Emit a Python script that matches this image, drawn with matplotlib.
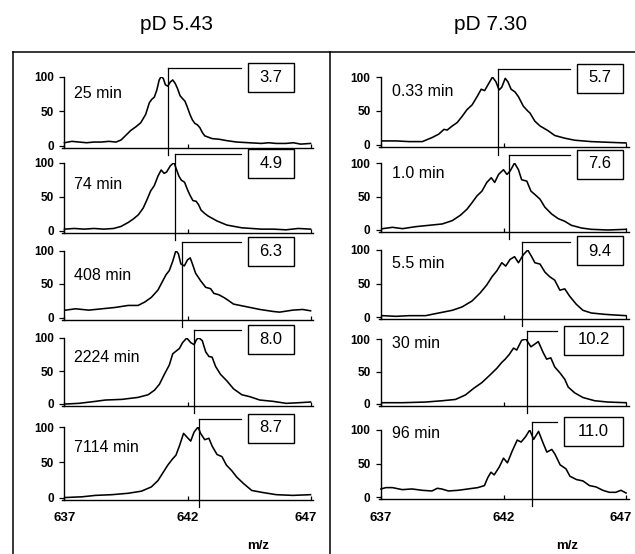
import matplotlib
matplotlib.use('Agg')
import matplotlib.pyplot as plt
from matplotlib.patches import Rectangle
from matplotlib.lines import Line2D
from matplotlib.transforms import ScaledTranslation

plt.rcParams['font.family'] = ['Liberation Sans', 'DejaVu Sans']

# ---------------- data ----------------
titles = ['pD 5.43', 'pD 7.30']
times_left = ['25 min', '74 min', '408 min', '2224 min', '7114 min']
times_right = ['0.33 min', '1.0 min', '5.5 min', '30 min', '96 min']
deut_left = ['3.7', '4.9', '6.3', '8.0', '8.7']
deut_right = ['5.7', '7.6', '9.4', '10.2', '11.0']
centroid_left = [641.20, 641.50, 641.76, 642.27, 642.47]
centroid_right = [641.77, 642.24, 642.74, 642.97, 643.18]
xticks = [637, 642, 647]
yticks = [0, 50, 100]

# spectra: (m/z, relative intensity)
L1 = [(637.0, 4), (637.3, 6), (637.6, 5), (637.9, 4), (638.2, 5), (638.5, 5), (638.8, 6), (639.1, 5),
      (639.3, 8), (639.5, 15), (639.7, 22), (639.9, 27), (640.1, 33), (640.3, 45), (640.45, 62),
      (640.55, 67), (640.65, 70), (640.75, 80), (640.85, 95), (640.93, 100), (641.02, 97), (641.1, 88),
      (641.2, 86), (641.3, 92), (641.4, 95), (641.5, 90), (641.6, 82), (641.7, 72), (641.8, 68),
      (641.9, 64), (642.0, 55), (642.1, 45), (642.2, 37), (642.3, 32), (642.4, 30), (642.5, 26),
      (642.6, 19), (642.7, 14), (642.85, 12), (643.0, 10), (643.3, 9), (643.6, 7), (644.0, 5),
      (644.5, 4), (645.0, 3), (645.3, 4), (645.6, 3), (646.0, 3), (646.3, 4), (646.6, 2), (647.0, 3)]
L2 = [(637.0, 2), (637.4, 3), (637.8, 2), (638.2, 3), (638.6, 2), (639.0, 3), (639.3, 6), (639.6, 12),
      (639.8, 17), (640.0, 23), (640.2, 33), (640.35, 45), (640.5, 58), (640.65, 66), (640.8, 80),
      (640.93, 89), (641.05, 84), (641.15, 86), (641.3, 95), (641.45, 100), (641.55, 90), (641.65, 80),
      (641.75, 74), (641.88, 71), (642.0, 60), (642.1, 52), (642.22, 44), (642.35, 43), (642.45, 38),
      (642.55, 30), (642.7, 25), (642.85, 21), (643.0, 18), (643.2, 14), (643.4, 11), (643.6, 8),
      (643.9, 6), (644.2, 4), (644.6, 3), (645.0, 2), (645.5, 2), (646.0, 1), (646.5, 3), (647.0, 2)]
L3 = [(637.05, 11), (637.45, 13), (637.99, 11), (638.52, 13), (639.06, 15), (639.59, 18), (639.99, 18),
      (640.26, 23), (640.53, 30), (640.8, 41), (641.0, 55), (641.13, 64), (641.26, 70), (641.4, 84),
      (641.53, 100), (641.63, 95), (641.73, 80), (641.87, 77), (642.0, 86), (642.11, 89), (642.2, 80),
      (642.33, 66), (642.53, 55), (642.74, 45), (642.94, 43), (643.07, 36), (643.27, 34), (643.47, 30),
      (643.6, 27), (643.87, 20), (644.14, 18), (644.54, 15), (644.94, 12), (645.48, 9), (645.74, 8),
      (646.28, 11), (646.68, 12), (647.0, 10)]
L4 = [(637.05, 0), (637.59, 1), (638.26, 4), (638.66, 6), (639.33, 7), (639.99, 10), (640.4, 14),
      (640.66, 21), (640.86, 30), (641.06, 45), (641.26, 59), (641.4, 76), (641.53, 80), (641.67, 84),
      (641.8, 93), (641.97, 100), (642.13, 93), (642.27, 90), (642.37, 98), (642.47, 100), (642.6, 96),
      (642.74, 79), (642.87, 72), (643.0, 71), (643.14, 57), (643.34, 45), (643.47, 40), (643.6, 35),
      (643.87, 23), (644.21, 14), (644.54, 11), (644.94, 6), (645.48, 4), (646.01, 1), (646.55, 2),
      (647.0, 3)]
L5 = [(637.05, 0), (637.72, 1), (638.26, 3), (638.93, 4), (639.59, 6), (640.13, 9), (640.53, 15),
      (640.8, 24), (641.0, 35), (641.2, 46), (641.4, 55), (641.53, 60), (641.67, 73), (641.84, 91),
      (641.97, 86), (642.13, 80), (642.27, 93), (642.43, 100), (642.53, 91), (642.7, 82), (642.87, 84),
      (643.0, 73), (643.2, 61), (643.4, 58), (643.58, 46), (643.8, 38), (644.0, 29), (644.27, 20),
      (644.61, 10), (645.07, 7), (645.61, 4), (646.28, 3), (647.0, 4)]
R1 = [(637.07, 6), (637.61, 6), (638.15, 5), (638.69, 5), (639.09, 11), (639.36, 16), (639.57, 23),
      (639.7, 22), (639.91, 28), (640.11, 33), (640.31, 42), (640.51, 52), (640.72, 59), (640.92, 71),
      (641.09, 82), (641.23, 80), (641.39, 90), (641.55, 100), (641.69, 93), (641.82, 81), (641.93, 85),
      (642.07, 98), (642.18, 93), (642.31, 82), (642.47, 78), (642.61, 71), (642.81, 57), (642.99, 50),
      (643.08, 47), (643.28, 35), (643.49, 28), (643.82, 21), (644.09, 14), (644.5, 10), (644.91, 7),
      (645.58, 5), (646.26, 4), (647.0, 3)]
R2 = [(637.07, 2), (637.47, 4), (637.88, 2), (638.42, 5), (638.96, 7), (639.5, 9), (639.91, 14),
      (640.24, 22), (640.51, 31), (640.72, 41), (640.92, 51), (641.12, 58), (641.32, 71), (641.5, 78),
      (641.64, 71), (641.8, 83), (642.0, 90), (642.14, 83), (642.27, 88), (642.45, 100), (642.61, 90),
      (642.74, 75), (642.95, 73), (643.12, 58), (643.28, 53), (643.49, 46), (643.69, 34), (643.96, 24),
      (644.23, 17), (644.5, 13), (644.77, 7), (645.18, 3), (645.58, 1), (646.26, 0), (647.0, 1)]
R3 = [(637.07, 2), (637.61, 1), (638.15, 2), (638.82, 2), (639.36, 6), (639.91, 10), (640.31, 15),
      (640.72, 24), (641.05, 36), (641.32, 48), (641.53, 60), (641.73, 69), (641.93, 81), (642.09, 76),
      (642.27, 86), (642.45, 90), (642.61, 81), (642.81, 93), (642.99, 100), (643.15, 90), (643.28, 81),
      (643.49, 79), (643.69, 67), (643.89, 60), (644.09, 55), (644.3, 40), (644.5, 42), (644.7, 31),
      (644.97, 19), (645.24, 10), (645.58, 6), (646.12, 4), (646.53, 3), (647.0, 2)]
R4 = [(637.07, 2), (637.88, 2), (638.82, 3), (639.5, 5), (640.04, 7), (640.45, 14), (640.78, 24),
      (641.12, 33), (641.46, 45), (641.73, 55), (641.93, 64), (642.07, 69), (642.23, 76), (642.41, 86),
      (642.54, 83), (642.74, 98), (642.91, 100), (643.12, 88), (643.42, 96), (643.62, 79), (643.76, 69),
      (643.93, 71), (644.09, 57), (644.3, 48), (644.5, 38), (644.64, 26), (644.91, 17), (645.24, 10),
      (645.72, 5), (646.26, 3), (647.0, 2)]
R5 = [(637.0, 12), (637.2, 14), (637.47, 14), (637.87, 11), (638.27, 12), (638.68, 10), (639.08, 9),
      (639.3, 13), (639.48, 12), (639.75, 9), (640.15, 10), (640.55, 12), (640.95, 14), (641.22, 17),
      (641.36, 29), (641.49, 37), (641.62, 33), (641.83, 45), (642.0, 58), (642.16, 51), (642.36, 69),
      (642.56, 85), (642.72, 82), (642.9, 90), (643.07, 100), (643.23, 86), (643.43, 98), (643.61, 81),
      (643.77, 67), (643.97, 71), (644.1, 64), (644.31, 48), (644.55, 42), (644.71, 31), (644.98, 26),
      (645.24, 24), (645.51, 17), (645.78, 15), (646.05, 10), (646.32, 7), (646.58, 7), (646.79, 10),
      (647.0, 6)]

spectra_left = [L1, L2, L3, L4, L5]
spectra_right = [R1, R2, R3, R4, R5]

# ---------------- layout (pixels) ----------------
W, H = 635, 554
fig = plt.figure(figsize=(W / 100, H / 100), dpi=100)


def fx(x):
    return x / W


def fy(y):
    return 1 - y / H


XLIM = (636.9, 647.1)
YMIN = -3
columns = [
    dict(x=(62, 313), rows=[(76.5, 145.5), (162.5, 230.5), (250.5, 317.5), (338, 404), (427, 497.5)],
         spectra=spectra_left, times=times_left, deut=deut_left, cent=centroid_left,
         label_x=74, label_y=[94, 184, 275, 357, 447], box_right=294, title_x=177, mz_x=258),
    dict(x=(378.5, 628.5), rows=[(77, 145), (163, 230), (250, 317), (339, 404), (430, 497)],
         spectra=spectra_right, times=times_right, deut=deut_right, cent=centroid_right,
         label_x=392, label_y=[92, 173, 263, 344, 433], box_right=623, title_x=491, mz_x=567),
]

LINE_TOP = 112
LINE_BOTTOM = -14

for ci, col in enumerate(columns):
    x0, x1 = col['x']
    for i in range(5):
        y100, y0 = col['rows'][i]
        s = (y0 - y100) / 100.0
        bottom = y0 - YMIN * s
        ax = fig.add_axes([fx(x0), fy(bottom), (x1 - x0) / W, (bottom - y100) / H])
        ax.set_xlim(*XLIM)
        ax.set_ylim(YMIN, 100)
        ax.patch.set_visible(False)
        for sp in ['top', 'right']:
            ax.spines[sp].set_visible(False)
        ax.spines['left'].set_position(('data', 637))
        for sp in ['left', 'bottom']:
            ax.spines[sp].set_linewidth(1.0)
        ax.set_yticks(yticks)
        ax.set_yticklabels([str(v) for v in yticks], fontsize=8.5, fontweight='bold')
        ax.tick_params(axis='y', direction='out', length=3.5, width=0.9, pad=4)
        ax.set_xticks(xticks)
        ax.tick_params(axis='x', direction='in', length=3, width=0.9, pad=9)
        if i == 4:
            labs = ax.set_xticklabels([str(v) for v in xticks], fontsize=9.5, fontweight='bold')
            last = labs[-1]
            last.set_transform(last.get_transform() +
                               ScaledTranslation(-5 / 100, 0, fig.dpi_scale_trans))
        else:
            ax.set_xticklabels([])

        mz, inten = zip(*col['spectra'][i])
        ax.plot(mz, inten, color='black', lw=1.15, solid_joinstyle='round')

        # centroid marker
        c = col['cent'][i]
        label = col['deut'][i]
        bw = 46 if len(label) <= 3 else 59
        bh = 29
        br = col['box_right']
        bl = br - bw
        cy = y100 + 1
        hx_end = XLIM[0] + (bl - 7 - x0) / (x1 - x0) * (XLIM[1] - XLIM[0])
        ax.plot([c, c], [LINE_BOTTOM, LINE_TOP], color='black', lw=0.9, clip_on=False)
        ax.plot([c, hx_end], [LINE_TOP, LINE_TOP], color='black', lw=0.9, clip_on=False)
        fig.add_artist(Rectangle((fx(bl), fy(cy + bh / 2)), bw / W, bh / H, transform=fig.transFigure,
                                 fill=False, edgecolor='black', lw=1.0))
        fig.text(fx(bl + bw / 2), fy(cy), label, ha='center', va='center', fontsize=12)

        fig.text(fx(col['label_x']), fy(col['label_y'][i]), col['times'][i], ha='left', va='center',
                 fontsize=11.5)

    fig.text(fx(col['title_x']), fy(24), titles[ci], ha='center', va='center', fontsize=15)
    fig.text(fx(col['mz_x']), fy(546), 'm/z', ha='center', va='center', fontsize=9.5, fontweight='bold')

# outer frame
frame_kw = dict(transform=fig.transFigure, color='black', lw=1.1)
fig.add_artist(Line2D([fx(13), fx(640)], [fy(52), fy(52)], **frame_kw))
fig.add_artist(Line2D([fx(13), fx(13)], [fy(52), fy(560)], **frame_kw))
fig.add_artist(Line2D([fx(330), fx(330)], [fy(52), fy(560)], **frame_kw))

fig.savefig('out.png', dpi=100)
